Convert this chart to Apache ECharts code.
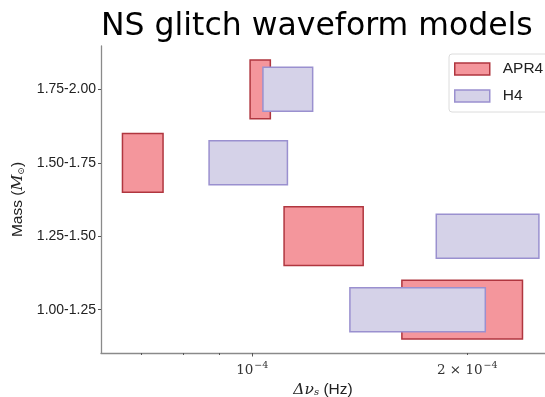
<!DOCTYPE html>
<html>
<head>
<meta charset="utf-8">
<script src="https://cdn.jsdelivr.net/npm/echarts@6/dist/echarts.min.js"></script>
<style>
  html, body { margin: 0; padding: 0; background: #fff; }
  #chart { width: 545px; height: 397px; }
</style>
</head>
<body>
<div id="chart"></div>
<script>
// Mass bins, bottom to top
const massBins = ['1.00-1.25', '1.25-1.50', '1.50-1.75', '1.75-2.00'];

// Glitch size range Δν_s (Hz) per mass bin, APR4 equation of state
const apr4Low  = [1.62e-4, 1.108e-4, 6.58e-5, 9.93e-5];
const apr4High = [2.39e-4, 1.43e-4, 7.5e-5, 1.06e-4];

// Same for the H4 equation of state
const h4Low  = [1.37e-4, 1.81e-4, 8.7e-5, 1.035e-4];
const h4High = [2.12e-4, 2.52e-4, 1.12e-4, 1.215e-4];

// x-axis tick positions
const xMajorTicks = [1e-4];
const xMinorTicks = [6e-5, 7e-5, 8e-5, 9e-5, 2e-4];
const xLabelTicks = [1e-4, 2e-4];

function boxRows(lo, hi) {
  return massBins.map((_, i) => [lo[i], hi[i], i]);
}

function boxRenderer(halfHeight, fill, stroke) {
  return function (params, api) {
    const p0 = api.coord([api.value(0), api.value(2) + halfHeight]);
    const p1 = api.coord([api.value(1), api.value(2) - halfHeight]);
    return {
      type: 'rect',
      shape: { x: p0[0], y: p0[1], width: p1[0] - p0[0], height: p1[1] - p0[1] },
      style: { fill: fill, stroke: stroke, lineWidth: 1.5 }
    };
  };
}

const APR4_FILL = '#f4969c', APR4_EDGE = '#b0363f';
const H4_FILL = '#d5d2e8', H4_EDGE = '#9a90cf';
const AXIS_GREY = '#8a8a8a';
const SERIF = '"DejaVu Serif", "Liberation Serif", serif';
const SANS = '"Liberation Sans", Arial, sans-serif';

const chart = echarts.init(document.getElementById('chart'), null, { renderer: 'canvas' });

chart.setOption({
  animation: false,
  backgroundColor: '#fff',
  title: {
    text: 'NS glitch waveform models',
    left: 96,
    top: 6,
    textStyle: { fontFamily: '"DejaVu Sans", sans-serif', fontSize: 31.5, fontWeight: 'normal', color: '#000' }
  },
  legend: {
    orient: 'vertical',
    left: 449,
    top: 54,
    padding: [7, 12, 8, 5],
    itemWidth: 35,
    itemHeight: 12,
    itemGap: 11,
    borderColor: '#dcdcdc',
    borderWidth: 1,
    borderRadius: 3,
    backgroundColor: '#fff',
    textStyle: { fontFamily: SANS, fontSize: 15.5, color: '#222', padding: [0, 0, 0, 8] },
    data: [
      { name: 'APR4', icon: 'rect', itemStyle: { color: APR4_FILL, borderColor: APR4_EDGE, borderWidth: 1.5 } },
      { name: 'H4', icon: 'rect', itemStyle: { color: H4_FILL, borderColor: H4_EDGE, borderWidth: 1.5 } }
    ]
  },
  grid: { left: 101, right: 0, top: 46, bottom: 44, outerBoundsMode: 'none' },
  xAxis: [
    {
      type: 'log',
      logBase: 10,
      min: 6.14e-5,
      max: 2.57e-4,
      position: 'bottom',
      splitLine: { show: false },
      axisLine: { show: true, onZero: false, lineStyle: { color: AXIS_GREY, width: 1.3 } },
      axisTick: { show: true, length: 2, customValues: xMinorTicks, lineStyle: { color: '#555', width: 1 } },
      axisLabel: {
        show: true,
        customValues: xLabelTicks,
        margin: 8,
        formatter: function (v) {
          const m = Math.round(v / 1e-4);
          return m === 1 ? '{b|10}{e|−4}' : '{b|' + m + ' × 10}{e|−4}';
        },
        rich: {
          b: { fontFamily: SERIF, fontSize: 13.5, color: '#333' },
          e: { fontFamily: SERIF, fontSize: 9.5, color: '#333', verticalAlign: 'top', padding: [0, 0, 8, 1] }
        }
      },
      name: '{g|Δν}{s|s}{t| (Hz)}',
      nameLocation: 'middle',
      nameGap: 28,
      nameTextStyle: {
        rich: {
          g: { fontFamily: SERIF, fontStyle: 'italic', fontSize: 15.5, color: '#222' },
          s: { fontFamily: SERIF, fontStyle: 'italic', fontSize: 10, color: '#222', verticalAlign: 'bottom', padding: [6, 0, 0, 0] },
          t: { fontFamily: SANS, fontSize: 15.5, color: '#222' }
        }
      }
    },
    {
      type: 'log',
      logBase: 10,
      min: 6.14e-5,
      max: 2.57e-4,
      position: 'bottom',
      splitLine: { show: false },
      axisLine: { show: false, onZero: false },
      axisTick: { show: true, length: 3.5, customValues: xMajorTicks, lineStyle: { color: '#555', width: 1 } },
      axisLabel: { show: false }
    }
  ],
  yAxis: {
    type: 'value',
    min: -0.59,
    max: 3.59,
    splitLine: { show: false },
    axisLine: { show: true, onZero: false, lineStyle: { color: AXIS_GREY, width: 1.3 } },
    axisTick: { show: true, length: 3, customValues: [0, 1, 2, 3], lineStyle: { color: '#555', width: 1 } },
    axisLabel: {
      customValues: [0, 1, 2, 3],
      margin: 5,
      fontFamily: SANS,
      fontSize: 14,
      color: '#222',
      formatter: function (v) { return massBins[Math.round(v)]; }
    },
    name: '{t|Mass (}{m|M}{o|⊙}{t|)}',
    nameLocation: 'middle',
    nameRotate: 90,
    nameGap: 70,
    nameTextStyle: {
      rich: {
        t: { fontFamily: SANS, fontSize: 15.5, color: '#222' },
        m: { fontFamily: SERIF, fontStyle: 'italic', fontSize: 15.5, color: '#222' },
        o: { fontFamily: SERIF, fontSize: 9, color: '#222', verticalAlign: 'bottom', padding: [6, 0, 0, 0] }
      }
    }
  },
  series: [
    {
      name: 'APR4',
      type: 'custom',
      xAxisIndex: 0,
      itemStyle: { color: APR4_FILL, borderColor: APR4_EDGE },
      encode: { x: [0, 1], y: 2 },
      renderItem: boxRenderer(0.4, APR4_FILL, APR4_EDGE),
      data: boxRows(apr4Low, apr4High)
    },
    {
      name: 'H4',
      type: 'custom',
      xAxisIndex: 0,
      itemStyle: { color: H4_FILL, borderColor: H4_EDGE },
      encode: { x: [0, 1], y: 2 },
      renderItem: boxRenderer(0.3, H4_FILL, H4_EDGE),
      data: boxRows(h4Low, h4High)
    }
  ]
});
</script>
</body>
</html>
